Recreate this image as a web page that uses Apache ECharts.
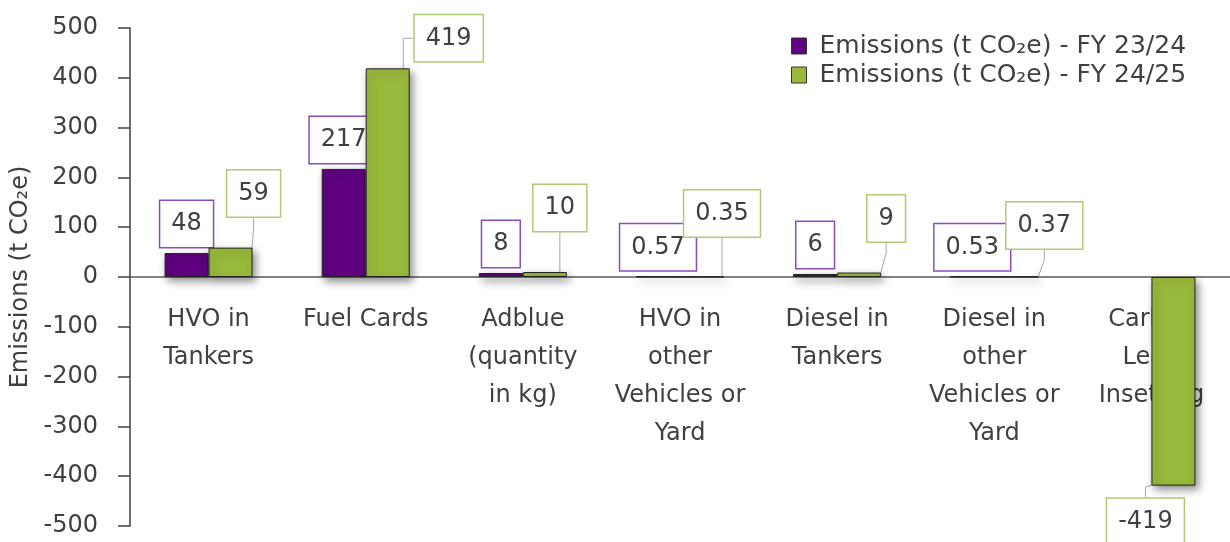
<!DOCTYPE html>
<html>
<head>
<meta charset="utf-8">
<script src="https://cdn.jsdelivr.net/npm/echarts@6/dist/echarts.min.js"></script>
<style>
html,body{margin:0;padding:0;background:#fff;}
#chart{width:1230px;height:542px;}
</style>
</head>
<body>
<div id="chart"></div>
<script>
// ---- data ----
var categories = [
  'HVO in\nTankers',
  'Fuel Cards',
  'Adblue\n(quantity\nin kg)',
  'HVO in\nother\nVehicles or\nYard',
  'Diesel in\nTankers',
  'Diesel in\nother\nVehicles or\nYard',
  'Carbon\nLeap\nInsetting'
];
var seriesNames = ['Emissions (t CO\u2082e) - FY 23/24', 'Emissions (t CO\u2082e) - FY 24/25'];
var fy2324 = [48, 217, 8, 0.57, 6, 0.53, null];
var fy2425 = [59, 419, 10, 0.35, 9, 0.37, -419];
var yTicks = [-500, -400, -300, -200, -100, 0, 100, 200, 300, 400, 500];

// ---- label placement (style only) ----
var greenDx = [23, 61, 15, 20, 27, 28, -28];
var greenDy = [-25, -1, -35, -34, -25, -22, 7];

var font = 'DejaVu Sans';
var textColor = '#404040';
var purple = '#600080';
var green = '#98b93c';
var fs = 24;
var gridTop = 28, gridBottom = 16, H = 542;

var chart = echarts.init(document.getElementById('chart'));

function labelStyle(borderColor) {
  return {
    show: true,
    position: 'top',
    distance: 6,
    fontFamily: font,
    fontSize: fs,
    lineHeight: 24,
    color: textColor,
    backgroundColor: '#fff',
    borderColor: borderColor,
    borderWidth: 1.5,
    padding: [11, 11],
    formatter: function (p) { return p.value == null ? '' : String(p.value); }
  };
}

var option = {
  animation: false,
  backgroundColor: '#fff',
  textStyle: { fontFamily: font },
  grid: { left: 130, right: 0, top: gridTop, bottom: gridBottom, containLabel: false, outerBoundsMode: 'none' },
  legend: {
    orient: 'vertical',
    left: 786,
    top: 27,
    itemWidth: 15,
    itemHeight: 16,
    itemGap: 1,
    icon: 'rect',
    textStyle: { fontFamily: font, fontSize: 25, lineHeight: 28, color: textColor, padding: [0, 0, 0, 8] },
    itemStyle: { borderColor: '#333', borderWidth: 1, shadowBlur: 0, shadowOffsetX: 0, shadowOffsetY: 0 },
    data: seriesNames
  },
  xAxis: {
    type: 'category',
    data: categories,
    position: 'bottom',
    offset: -((H - gridTop - gridBottom) / 2),
    axisLine: { onZero: false, lineStyle: { color: '#595959', width: 1.5 } },
    axisTick: { show: false },
    axisLabel: {
      interval: 0,
      margin: 24,
      fontFamily: font,
      fontSize: fs,
      lineHeight: 38,
      color: textColor,
      verticalAlign: 'top'
    },
    splitLine: { show: false }
  },
  yAxis: {
    type: 'value',
    min: yTicks[0],
    max: yTicks[yTicks.length - 1],
    interval: 100,
    name: 'Emissions (t CO\u2082e)',
    nameLocation: 'middle',
    nameGap: 96,
    nameTextStyle: { fontFamily: font, fontSize: fs, color: textColor },
    axisLine: { show: true, lineStyle: { color: '#404040', width: 1.5 } },
    axisTick: { show: true, length: 12, lineStyle: { color: '#404040', width: 1.5 } },
    axisLabel: { margin: 32, fontFamily: font, fontSize: fs, color: textColor },
    splitLine: { show: false }
  },
  series: [
    {
      name: seriesNames[0],
      type: 'bar',
      data: fy2324,
      barWidth: 44,
      barGap: '0%',
      itemStyle: {
        color: purple,
        borderColor: '#222',
        borderWidth: 1,
        shadowColor: 'rgba(0,0,0,0.45)',
        shadowBlur: 8,
        shadowOffsetX: 3,
        shadowOffsetY: 4
      },
      label: labelStyle('#8a4cc0'),
      z: 3
    },
    {
      name: seriesNames[1],
      type: 'bar',
      data: fy2425.map(function (v, i) {
        if (v < 0) {
          return { value: v, label: { position: 'bottom' } };
        }
        return v;
      }),
      barWidth: 44,
      barGap: '0%',
      itemStyle: {
        color: green,
        borderColor: '#222',
        borderWidth: 1,
        shadowColor: 'rgba(0,0,0,0.45)',
        shadowBlur: 8,
        shadowOffsetX: 3,
        shadowOffsetY: 4
      },
      label: labelStyle('#b0c877'),
      labelLine: { show: true, lineStyle: { color: '#a6a6a6', width: 1 }, length2: 10 },
      labelLayout: function (params) {
        return { dx: greenDx[params.dataIndex], dy: greenDy[params.dataIndex] };
      },
      z: 4
    }
  ]
};

chart.setOption(option);
</script>
</body>
</html>
